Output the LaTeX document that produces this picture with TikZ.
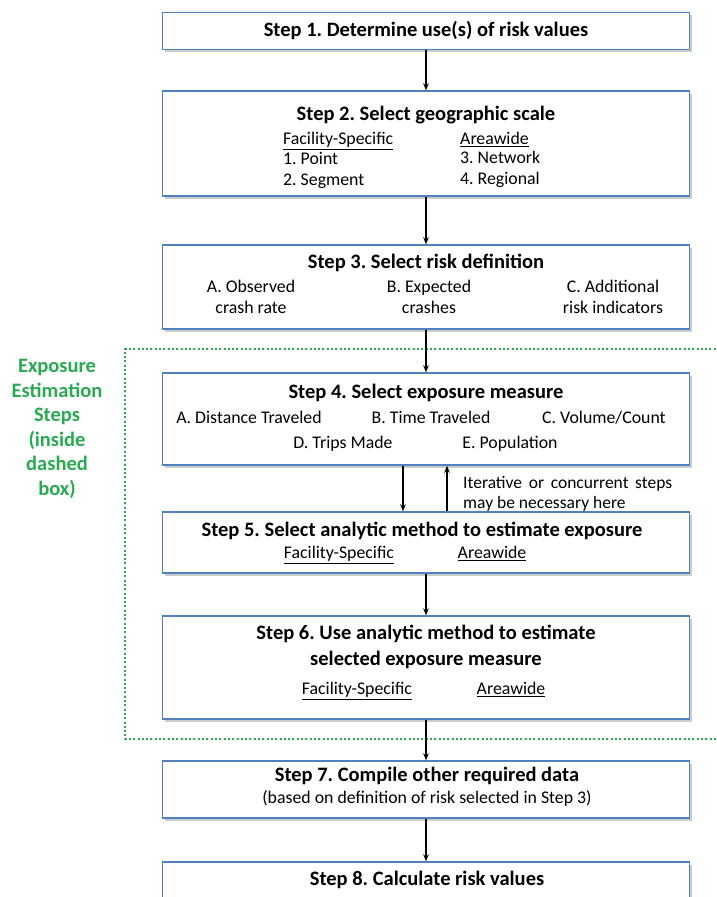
\documentclass[tikz,border=0pt]{standalone}
\usepackage{fontspec}
\setmainfont{Carlito}
\usetikzlibrary{shadows,arrows.meta}
\definecolor{boxblue}{RGB}{79,129,189}
\definecolor{exgreen}{RGB}{40,170,80}
\frenchspacing
\begin{document}
\begin{tikzpicture}[x=1pt,y=-1pt,
  stepbox/.style={draw=boxblue, line width=1.4pt, fill=white,
    drop shadow={shadow xshift=2pt,shadow yshift=-2.5pt,fill=black!40},
    minimum width=527pt, inner sep=0pt},
  ttl/.style={font=\fontsize{20.5}{26}\selectfont\bfseries, anchor=mid, inner sep=0pt, align=center, yshift=-3.5pt},
  txt/.style={font=\fontsize{17.8}{21}\selectfont, anchor=mid, inner sep=0pt, yshift=-3.5pt},
  txtw/.style={txt, anchor=mid west},
  arr/.style={-{Stealth[length=7pt,width=5.5pt]}, line width=1.2pt},
  dotline/.style={draw=exgreen, line width=2pt, dash pattern=on 2pt off 2.3pt}]
\useasboundingbox (0,0) rectangle (716,897);
% dotted region
\draw[dotline] (720,349) -- (125,349) -- (125,739) -- (720,739);
\node[font=\fontsize{20.5}{24.5}\selectfont\bfseries, text=exgreen, align=center, inner sep=0pt] (lbl) at (57,429)
  {Exposure\\Estimation\\Steps\\(inside\\dashed\\box)};
% Step 1
\node[stepbox, minimum height=37pt] (s1) at (426,31) {};
\node[ttl] (t1) at (426,31) {Step 1. Determine use(s) of risk values};
% Step 2
\node[stepbox, minimum height=105pt] (s2) at (426,143.5) {};
\node[ttl] (t2) at (426,115) {Step 2. Select geographic scale};
\node[txtw] (f2) at (283,139) {\underline{Facility-Specific}};
\node[txtw] (p2) at (283,159) {1. Point};
\node[txtw] (g2) at (283,180) {2. Segment};
\node[txtw] (a2) at (460,139) {\underline{Areawide}};
\node[txtw] (n2) at (460,158) {3. Network};
\node[txtw] (r2) at (460,179) {4. Regional};
% Step 3
\node[stepbox, minimum height=84pt] (s3) at (426,287) {};
\node[ttl] (t3) at (426,263) {Step 3. Select risk definition};
\node[txt] (a3) at (251,287) {A. Observed};
\node[txt] (a3b) at (251,308) {crash rate};
\node[txt] (b3) at (429,287) {B. Expected};
\node[txt] (b3b) at (429,308) {crashes};
\node[txt] (c3) at (613,287) {C. Additional};
\node[txt] (c3b) at (613,308) {risk indicators};
% Step 4
\node[stepbox, minimum height=92pt] (s4) at (426,419) {};
\node[ttl] (t4) at (426,393) {Step 4. Select exposure measure};
\node[txt] (a4) at (249,418) {A. Distance Traveled};
\node[txt] (b4) at (431,418) {B. Time Traveled};
\node[txt] (c4) at (604,418) {C. Volume/Count};
\node[txt] (d4) at (343,443) {D. Trips Made};
\node[txt] (e4) at (510,443) {E. Population};
% Step 5
\node[stepbox, minimum height=61pt] (s5) at (426,542.5) {};
\node[ttl] (t5) at (422,531) {Step 5. Select analytic method to estimate exposure};
\node[txt] (f5) at (339,553) {\underline{Facility-Specific}};
\node[txt] (a5) at (492,553) {\underline{Areawide}};
% Step 6
\node[stepbox, minimum height=103pt] (s6) at (426,667.5) {};
\node[ttl, anchor=center] (t6) at (426,643) {Step 6. Use analytic method to estimate\\selected exposure measure};
\node[txt] (f6) at (357,689) {\underline{Facility-Specific}};
\node[txt] (a6) at (511,689) {\underline{Areawide}};
% Step 7
\node[stepbox, minimum height=57pt] (s7) at (426,789.5) {};
\node[ttl] (t7) at (427,776) {Step 7. Compile other required data};
\node[txt] (u7) at (427,798) {(based on definition of risk selected in Step 3)};
% Step 8
\node[stepbox, minimum height=46pt] (s8) at (426,885) {};
\node[ttl] (t8) at (427,880) {Step 8. Calculate risk values};
% connectors
\draw[arr] (s1.south) -- (s2.north);
\draw[arr] (s2.south) -- (s3.north);
\draw[arr] (s3.south) -- (s4.north);
\draw[arr] ([xshift=-23pt]s4.south) -- ([xshift=-23pt]s5.north);
\draw[arr] ([xshift=21pt]s5.north) -- ([xshift=21pt]s4.south);
\draw[arr] (s5.south) -- (s6.north);
\draw[arr] (s6.south) -- (s7.north);
\draw[arr] (s7.south) -- (s8.north);
\node[txt, font=\fontsize{17.5}{20}\selectfont, anchor=north west, align=left, yshift=0pt] (it) at (463,473)
  {\makebox[209pt][s]{Iterative or concurrent steps}\\may be necessary here};
\end{tikzpicture}
\end{document}
